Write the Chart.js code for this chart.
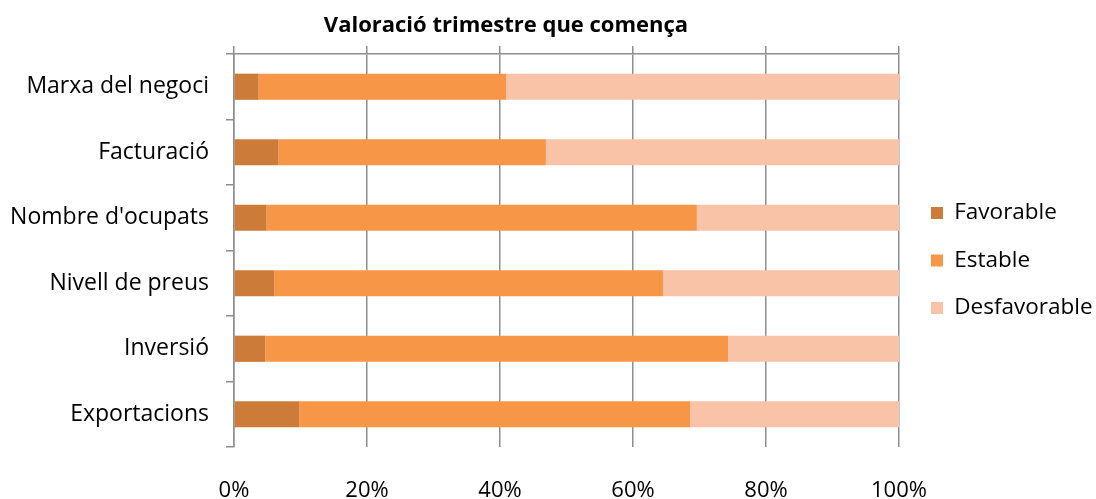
<!DOCTYPE html>
<html>
<head>
<meta charset="utf-8">
<script src="https://cdn.jsdelivr.net/npm/chart.js@4"></script>
<style>
  html, body { margin: 0; padding: 0; background: #fff; }
</style>
</head>
<body>
<canvas id="chart" width="1096" height="499"></canvas>
<script>
const categories = ['Marxa del negoci', 'Facturació', "Nombre d'ocupats", 'Nivell de preus', 'Inversió', 'Exportacions'];
const favorable = [3.7, 6.7, 4.9, 6.1, 4.7, 9.8];
const estable = [37.2, 40.2, 64.7, 58.4, 69.6, 58.8];
const desfavorable = [59.1, 53.1, 30.4, 35.5, 25.7, 31.4];
const xTicks = [0, 20, 40, 60, 80, 100];
const chartTitle = 'Valoració trimestre que comença';

Chart.defaults.font.family = '"Open Sans", sans-serif';
Chart.defaults.color = '#000';

// title is not centred on the canvas in the original, so draw it ourselves
const titlePlugin = {
  id: 'offsetTitle',
  afterDraw(chart) {
    const ctx = chart.ctx;
    ctx.save();
    ctx.font = 'bold 22px "Open Sans", sans-serif';
    ctx.fillStyle = '#000';
    ctx.textAlign = 'center';
    ctx.textBaseline = 'middle';
    ctx.fillText(chartTitle, 506, 26);
    ctx.restore();
  }
};

const gridColor = '#8e8e8e';

new Chart(document.getElementById('chart'), {
  type: 'bar',
  data: {
    labels: categories,
    datasets: [
      { label: 'Favorable', data: favorable, backgroundColor: '#cc7b38', xAxisID: 'x' },
      { label: 'Estable', data: estable, backgroundColor: '#f79646', xAxisID: 'x' },
      { label: 'Desfavorable', data: desfavorable, backgroundColor: '#f9c3a7', xAxisID: 'x' },
    ],
  },
  options: {
    responsive: false,
    animation: false,
    indexAxis: 'y',
    barPercentage: 0.4,
    categoryPercentage: 1,
    layout: { padding: { top: 22, right: 2.5, bottom: 0, left: 0 } },
    plugins: {
      title: { display: false },
      tooltip: { enabled: false },
      legend: {
        position: 'right',
        maxWidth: 187.5,
        labels: { boxWidth: 12, boxHeight: 12, padding: 25, font: { size: 22.5 }, color: '#000' },
      },
    },
    scales: {
      x: {
        position: 'top',
        stacked: true,
        min: 0,
        max: 100,
        ticks: { display: false, stepSize: 20 },
        grid: { color: gridColor, lineWidth: 1.5, tickLength: 8 },
        border: { color: gridColor, width: 1.5 },
        afterFit: (scale) => { scale.height = 32; },
      },
      x2: {
        position: 'bottom',
        min: 0,
        max: 100,
        afterBuildTicks: (scale) => { scale.ticks = xTicks.map((v) => ({ value: v })); },
        ticks: { callback: (v) => v + '%', padding: 33, font: { size: 22, lineHeight: 1 }, maxRotation: 0 },
        grid: { display: false, drawTicks: false },
        border: { display: false },
        afterFit: (scale) => { scale.height = 52; },
      },
      y: {
        stacked: true,
        grid: { drawOnChartArea: false, tickLength: 8, color: gridColor, lineWidth: 1.5, offset: true },
        border: { color: gridColor, width: 1.5 },
        ticks: { padding: 17, font: { size: 23 } },
        afterFit: (scale) => { scale.width = 234; },
      },
      // empty axis, only keeps a small gap between the plot and the legend
      gap: {
        type: 'linear',
        position: 'right',
        min: 0,
        max: 1,
        ticks: { display: false },
        grid: { display: false, drawTicks: false },
        border: { display: false },
        afterFit: (scale) => { scale.width = 7; },
      },
    },
  },
  plugins: [titlePlugin],
});
</script>
</body>
</html>
